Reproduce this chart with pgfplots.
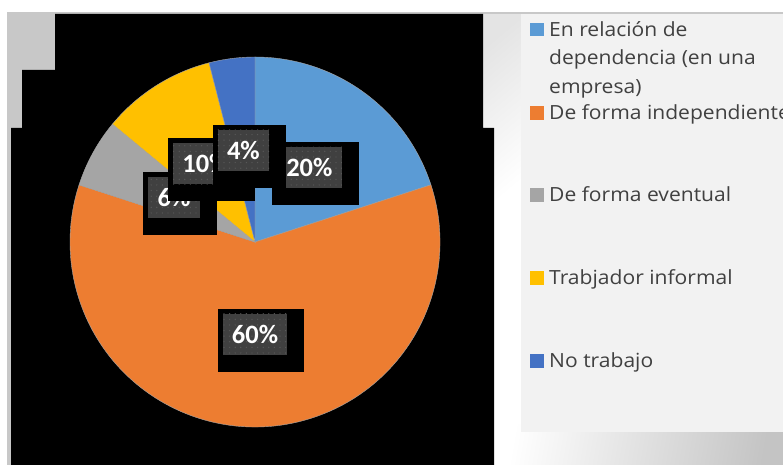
\documentclass[border=0pt]{standalone}
\usepackage{pgfplots}
\pgfplotsset{compat=1.18}
\usepackage{pgfplotstable}
\usepackage{fontspec}
\usetikzlibrary{patterns.meta}
\newfontfamily\legfont{Open Sans}[FakeStretch=1.08]
\newfontfamily\labfont{Carlito}

\definecolor{c1}{HTML}{5B9BD5}
\definecolor{c2}{HTML}{ED7D31}
\definecolor{c3}{HTML}{A5A5A5}
\definecolor{c4}{HTML}{FFC000}
\definecolor{c5}{HTML}{4472C4}
\definecolor{legtext}{HTML}{404040}
\definecolor{labgray}{HTML}{404040}
\definecolor{dotgray}{HTML}{585858}
\definecolor{legbg}{HTML}{F2F2F2}
\definecolor{bgg}{HTML}{C4C4C4}
\definecolor{bord}{HTML}{C8C8C8}
\definecolor{lgray}{HTML}{E4E4E4}

\tikzdeclarepattern{
  name=ldots,
  type=uncolored,
  bounding box={(-1bp,-1bp) and (1bp,1bp)},
  tile size={(5.6bp,5.6bp)},
  code={\pgfpathcircle{\pgfpointorigin}{0.7bp}\pgfusepath{fill}}
}

\newcommand\labfnt{\labfont\bfseries\fontsize{26.5bp}{30bp}\selectfont}
\newcommand\pielabel[3]{%
  \node[fill=black, text opacity=0, inner xsep=20.3bp, minimum height=63bp, font=\labfnt]
    at ([xshift=6bp,yshift=-6bp]axis cs:#1,#2) {#3};
  \node[fill=labgray, postaction={pattern=ldots, pattern color=dotgray}, text=white,
    inner xsep=9.3bp, minimum height=41bp, font=\labfnt] at (axis cs:#1,#2) {#3};
}

\pgfplotstableread{
value color
20 c1
60 c2
6 c3
10 c4
4 c5
}\piedata

\newtoks\pietoks
\newtoks\labtoks
\def\cum{0}
\pgfplotsforeachungrouped \i in {0,...,4}{%
  \pgfplotstablegetelem{\i}{value}\of\piedata \let\v\pgfplotsretval
  \pgfplotstablegetelem{\i}{color}\of\piedata \let\col\pgfplotsretval
  \pgfmathsetmacro\a{90-3.6*\cum}%
  \pgfmathsetmacro\b{90-3.6*(\cum+\v)}%
  \pgfmathsetmacro\m{(\a+\b)/2}%
  \pgfmathsetmacro\sx{185*cos(\a)}%
  \pgfmathsetmacro\sy{185*sin(\a)}%
  \pgfmathsetmacro\lx{92.5*cos(\m)}%
  \pgfmathsetmacro\ly{92.5*sin(\m)}%
  \pgfmathsetmacro\cum{\cum+\v}%
  \edef\tmp{\the\pietoks\noexpand\fill[\col, draw=black!35, line width=0.4bp] (axis cs:0,0) -- (axis cs:\sx,\sy) arc[start angle=\a, end angle=\b, radius=185bp] -- cycle;}%
  \global\pietoks\expandafter{\tmp}%
  \edef\tmp{\the\labtoks\noexpand\pielabel{\lx}{\ly}{\v\noexpand\%}}%
  \global\labtoks\expandafter{\tmp}%
}

\begin{document}
\begin{tikzpicture}[x=1bp,y=1bp]
% background
\fill[white] (0,0) rectangle (783,465);
\fill[bord] (7,0) rectangle (60,452);
\shade[shading=axis, top color=lgray, bottom color=white, shading angle=40] (483,250) rectangle (521,452);
\shade[shading=axis, left color=white, right color=bgg, shading angle=80] (494,0) rectangle (783,40);
\draw[bord, line width=1.5bp] (7,452) -- (783,452);
% black plot area artifact
\fill[black] (11,0) -- (11,337) -- (22,337) -- (22,395) -- (55,395) -- (55,451) -- (483,451) -- (483,337) -- (494,337) -- (494,0) -- cycle;
% legend box
\fill[legbg] (521,33) rectangle (783,451);

\begin{axis}[hide axis, x=1bp, y=1bp, xmin=-200, xmax=200, ymin=-200, ymax=200,
  clip=false, at={(255bp,223bp)}, anchor=origin]
\the\pietoks
\the\labtoks
\end{axis}

% legend
\tikzset{leg/.style={anchor=base west, inner sep=0, text=legtext, font=\legfont\fontsize{19.5bp}{24bp}\selectfont}}
\fill[c1] (530,428.5) rectangle (544,442);
\node[leg] at (549,428.5) {En relación de};
\node[leg] at (549,400) {dependencia (en una};
\node[leg] at (549,371.5) {empresa)};
\fill[c2] (530,345) rectangle (544,358.5);
\node[leg] at (549,345) {De forma independiente};
\fill[c3] (530,263) rectangle (544,276.5);
\node[leg] at (549,263) {De forma eventual};
\fill[c4] (530,180) rectangle (544,193.5);
\node[leg] at (549,180) {Trabjador informal};
\fill[c5] (530,97) rectangle (544,110.5);
\node[leg] at (549,97) {No trabajo};

\pgfresetboundingbox
\useasboundingbox (0,0) rectangle (783,465);
\end{tikzpicture}
\end{document}
